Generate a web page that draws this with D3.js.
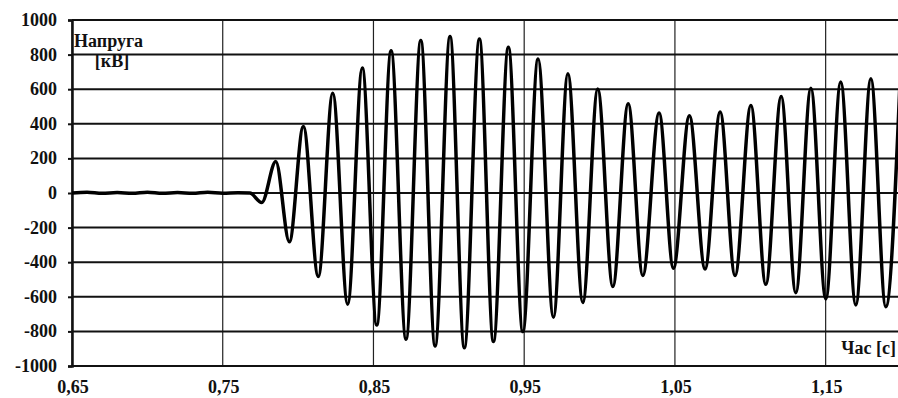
<!DOCTYPE html>
<html>
<head>
<meta charset="utf-8">
<script src="https://cdn.jsdelivr.net/npm/d3@7"></script>
<style>
  html, body { margin: 0; padding: 0; background: #fff; }
  svg { display: block; }
</style>
</head>
<body>
<div id="chart"></div>
<script>
// Extrema of the voltage trace (time in s, voltage in kV)
const times = [
  0.650, 0.660, 0.670, 0.680, 0.690, 0.700, 0.710, 0.720, 0.730, 0.740, 0.750, 0.760, 0.768,
  0.7759, 0.7852, 0.7942, 0.8035, 0.8134, 0.8230, 0.8329, 0.8426, 0.8522, 0.8617,
  0.8716, 0.8814, 0.8909, 0.9008, 0.9103, 0.9203, 0.9296, 0.9395, 0.9491, 0.9592,
  0.9694, 0.9790, 0.9889, 0.9988, 1.0088, 1.0190, 1.0287, 1.0395, 1.0490, 1.0596,
  1.0700, 1.0800, 1.0899, 1.1004, 1.1103, 1.1205, 1.1302, 1.1402, 1.1501, 1.1600,
  1.1700, 1.1800, 1.1899, 1.1995
];
const voltage = [
  0, 4, -2, 3, -2, 4, -2, 3, -2, 4, -1, 2, 0,
  -55, 182, -282, 385, -483, 577, -643, 722, -763, 822,
  -845, 882, -884, 905, -894, 890, -859, 843, -801, 774,
  -718, 690, -633, 601, -541, 516, -477, 462, -435, 447,
  -439, 468, -477, 506, -528, 558, -576, 606, -612, 641,
  -647, 661, -657, 680
];

const xTicks = [0.65, 0.75, 0.85, 0.95, 1.05, 1.15];
const xTickLabels = ['0,65', '0,75', '0,85', '0,95', '1,05', '1,15'];
const yTicks = [-1000, -800, -600, -400, -200, 0, 200, 400, 600, 800, 1000];
const yTickLabels = ['-1000', '-800', '-600', '-400', '-200', '0', '200', '400', '600', '800', '1000'];

const width = 898, height = 398;
const margin = { top: 20, right: 0, bottom: 32, left: 72 };
const FONT = '"Liberation Serif", "Times New Roman", serif';
const FS = 18;

const svg = d3.select('#chart').append('svg')
  .attr('width', width)
  .attr('height', height)
  .attr('font-family', FONT)
  .attr('font-weight', 'bold');

const x = d3.scaleLinear()
  .domain([0.65, 1.198])
  .range([margin.left, width - margin.right]);

const y = d3.scaleLinear()
  .domain([-1000, 1000])
  .range([height - margin.bottom, margin.top]);

// vertical grid (thin)
svg.append('g')
  .selectAll('line')
  .data(xTicks)
  .join('line')
  .attr('x1', d => x(d)).attr('x2', d => x(d))
  .attr('y1', y(1000)).attr('y2', y(-1000))
  .attr('stroke', '#222')
  .attr('stroke-width', 1.2);

// horizontal grid (thick)
svg.append('g')
  .selectAll('line')
  .data(yTicks)
  .join('line')
  .attr('x1', x(0.65)).attr('x2', width)
  .attr('y1', d => y(d)).attr('y2', d => y(d))
  .attr('stroke', '#111')
  .attr('stroke-width', 2);

// left axis with small ticks
const yAxis = d3.axisLeft(y)
  .tickValues(yTicks)
  .tickSize(4)
  .tickPadding(0)
  .tickFormat(() => '');

svg.append('g')
  .attr('transform', `translate(${margin.left},0)`)
  .call(yAxis)
  .call(g => g.select('.domain').attr('stroke', '#111').attr('stroke-width', 2.5))
  .call(g => g.selectAll('.tick line').attr('stroke', '#111').attr('stroke-width', 2));

// y tick labels
svg.append('g')
  .selectAll('text')
  .data(yTicks)
  .join('text')
  .attr('x', 57)
  .attr('y', d => y(d))
  .attr('dy', '0.33em')
  .attr('text-anchor', 'end')
  .attr('font-family', FONT)
  .attr('font-weight', 'bold')
  .attr('font-size', FS)
  .attr('fill', '#111')
  .text((d, i) => yTickLabels[i]);

// x tick labels
svg.append('g')
  .selectAll('text')
  .data(xTicks)
  .join('text')
  .attr('x', d => x(d) + 1)
  .attr('y', 393)
  .attr('text-anchor', 'middle')
  .attr('font-family', FONT)
  .attr('font-weight', 'bold')
  .attr('font-size', FS)
  .attr('fill', '#111')
  .text((d, i) => xTickLabels[i]);

// clip for trace
svg.append('clipPath')
  .attr('id', 'plot-clip')
  .append('rect')
  .attr('x', margin.left)
  .attr('y', 0)
  .attr('width', width - margin.left)
  .attr('height', height);

const line = d3.line()
  .x(d => x(d[0]))
  .y(d => y(d[1]))
  .curve(d3.curveMonotoneX);

svg.append('path')
  .datum(times.map((t, i) => [t, voltage[i]]))
  .attr('clip-path', 'url(#plot-clip)')
  .attr('fill', 'none')
  .attr('stroke', '#000')
  .attr('stroke-width', 3.5)
  .attr('stroke-linejoin', 'round')
  .attr('d', line);

// axis titles
const title = (tx, ty, anchor, s) => svg.append('text')
  .attr('x', tx)
  .attr('y', ty)
  .attr('text-anchor', anchor)
  .attr('font-family', FONT)
  .attr('font-weight', 'bold')
  .attr('font-size', FS)
  .attr('fill', '#111')
  .text(s);

title(74, 47, 'start', 'Напруга');
title(112, 67, 'middle', '[кВ]');
title(896, 354, 'end', 'Час [c]');
</script>
</body>
</html>
